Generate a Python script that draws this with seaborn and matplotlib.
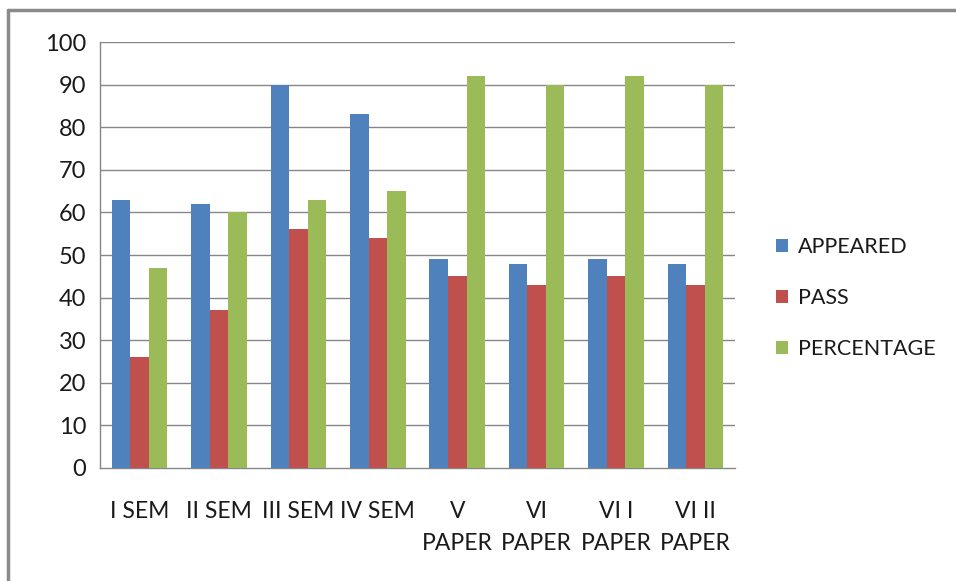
import matplotlib
matplotlib.use("Agg")
import matplotlib.pyplot as plt
import numpy as np
import pandas as pd
import seaborn as sns
from matplotlib.lines import Line2D
from matplotlib.patches import Patch

categories = ["I SEM", "II SEM", "III SEM", "IV SEM",
              "V\nPAPER", "VI\nPAPER", "VI I\nPAPER", "VI II\nPAPER"]
appeared = [63, 62, 90, 83, 49, 48, 49, 48]
passed = [26, 37, 56, 54, 45, 43, 45, 43]
percentage = [47, 60, 63, 65, 92, 90, 92, 90]
series = ["APPEARED", "PASS", "PERCENTAGE"]
colors = ["#4F81BD", "#C0504D", "#9BBB59"]

df = pd.DataFrame({
    "category": categories * 3,
    "series": [series[0]] * 8 + [series[1]] * 8 + [series[2]] * 8,
    "value": appeared + passed + percentage,
})

sns.set_style("white")
plt.rcParams["font.family"] = ["Lato", "DejaVu Sans"]

fig = plt.figure(figsize=(9.56, 5.81), dpi=100)
ax = fig.add_axes([0.1046, 0.1945, 0.6644, 0.7332])

sns.barplot(data=df, x="category", y="value", hue="series", palette=colors,
            width=0.7, saturation=1, linewidth=0, ax=ax, legend=False, zorder=3)

grid_c = "#868686"
ax.set_ylim(0, 100)
ax.set_xlim(-0.5, 7.5)
ax.set_yticks(np.arange(0, 101, 10))
for y in range(10, 101, 10):
    ax.axhline(y, color=grid_c, linewidth=1, zorder=1)

ax.set_xlabel("")
ax.set_ylabel("")
for s in ["top", "right"]:
    ax.spines[s].set_visible(False)
for s in ["left", "bottom"]:
    ax.spines[s].set_color(grid_c)
    ax.spines[s].set_linewidth(1)

ax.tick_params(axis="y", length=5, color=grid_c, labelsize=17, pad=5,
               labelcolor="#1a1a1a")
ax.tick_params(axis="x", which="major", length=0, labelsize=16.5, pad=24,
               labelcolor="#1a1a1a")
for lbl in ax.get_xticklabels():
    lbl.set_linespacing(1.6)
ax.set_xticks(np.arange(-0.5, 8, 1), minor=True)
ax.tick_params(axis="x", which="minor", length=8, color=grid_c)

handles = [Patch(facecolor=c, edgecolor="none") for c in colors]
fig.legend(handles, series, loc="center left", bbox_to_anchor=(0.812, 0.487),
           frameon=False, fontsize=15.5, handlelength=0.55, handleheight=0.55,
           handletextpad=0.45, labelspacing=1.45, borderpad=0,
           borderaxespad=0, labelcolor="#1a1a1a")

# outer chart frame (only top and left visible)
fig.add_artist(Line2D([0.0085, 0.0085], [0, 0.983], color="#8a8a8a",
                      linewidth=2.5, transform=fig.transFigure))
fig.add_artist(Line2D([0.0085, 1.0], [0.983, 0.983], color="#8a8a8a",
                      linewidth=2.5, transform=fig.transFigure))

fig.savefig("out.png", dpi=100)
